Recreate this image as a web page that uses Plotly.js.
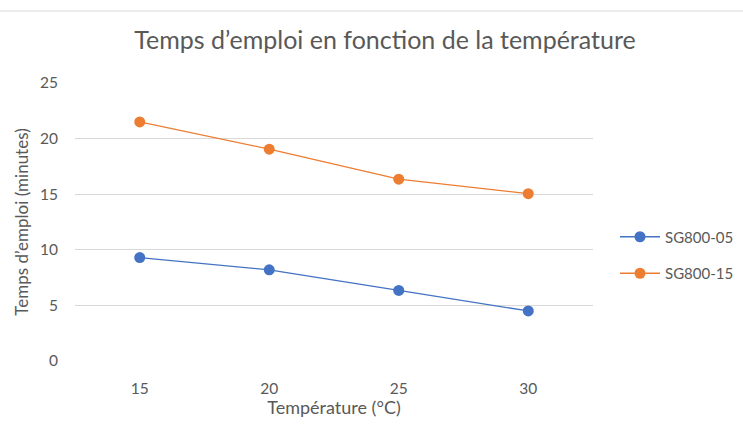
<!DOCTYPE html>
<html>
<head>
<meta charset="utf-8">
<script src="https://cdn.plot.ly/plotly-3.0.1.min.js"></script>
<style>html,body{margin:0;padding:0;background:#fff;}#chart{width:743px;height:440px;}</style>
</head>
<body>
<div id="chart"></div>
<script>
const categories = ['15', '20', '25', '30'];
const seriesNames = ['SG800-05', 'SG800-15'];
const sg800_05 = [9.3, 8.2, 6.35, 4.5];
const sg800_15 = [21.5, 19.05, 16.35, 15.05];
const yTicks = [0, 5, 10, 15, 20, 25];

const colors = ['#4472C4', '#ED7D31'];
const FONT = 'Lato, "Open Sans", sans-serif';
const W = 743, H = 440, L = 75, R = 150, T = 83, B = 79;
const plotW = W - L - R, plotH = H - T - B;

const traces = [sg800_05, sg800_15].map((vals, i) => ({
  x: categories,
  y: vals,
  name: seriesNames[i],
  legendgroup: 'g' + i,
  type: 'scatter',
  mode: 'lines+markers',
  line: {color: colors[i], width: 1.3},
  marker: {color: colors[i], size: 11}
}));

const layout = {
  width: W, height: H,
  margin: {l: L, r: R, t: T, b: B, autoexpand: false},
  paper_bgcolor: '#fff', plot_bgcolor: '#fff',
  font: {family: FONT, color: '#595959'},
  title: {
    text: 'Temps d’emploi en fonction de la température',
    font: {family: FONT, size: 25, color: '#595959'},
    x: 385 / W, xanchor: 'center',
    y: 1 - 40 / H, yanchor: 'middle'
  },
  xaxis: {
    type: 'category',
    range: [-0.5, 3.5],
    showgrid: false, zeroline: false, showline: false,
    ticks: '',
    ticklabelstandoff: 16,
    tickfont: {size: 15.5, color: '#595959', family: FONT},
    title: {text: 'Température (°C)', font: {size: 18, color: '#595959', family: FONT}, standoff: 4},
    fixedrange: true
  },
  yaxis: {
    range: [0, 25],
    tickvals: yTicks,
    ticktext: yTicks.map(String),
    showgrid: true, gridcolor: '#d9d9d9', gridwidth: 1,
    zeroline: false, showline: false, ticks: '',
    ticklabelstandoff: 16,
    tickfont: {size: 15.5, color: '#595959', family: FONT},
    title: {text: 'Temps d’emploi (minutes)', font: {size: 17, color: '#595959', family: FONT}, standoff: 7},
    fixedrange: true
  },
  legend: {
    x: 1 + 22 / plotW, xanchor: 'left',
    y: 1 - (255 - T) / plotH, yanchor: 'middle',
    font: {size: 15, color: '#595959', family: FONT},
    tracegroupgap: 14,
    itemwidth: 40
  },
  shapes: [{
    type: 'line', xref: 'paper', yref: 'paper',
    x0: -L / plotW, x1: 1 + R / plotW,
    y0: 1 + (T - 11) / plotH, y1: 1 + (T - 11) / plotH,
    line: {color: '#d9d9d9', width: 1}
  }]
};

Plotly.newPlot('chart', traces, layout, {displayModeBar: false, staticPlot: true});
</script>
</body>
</html>
